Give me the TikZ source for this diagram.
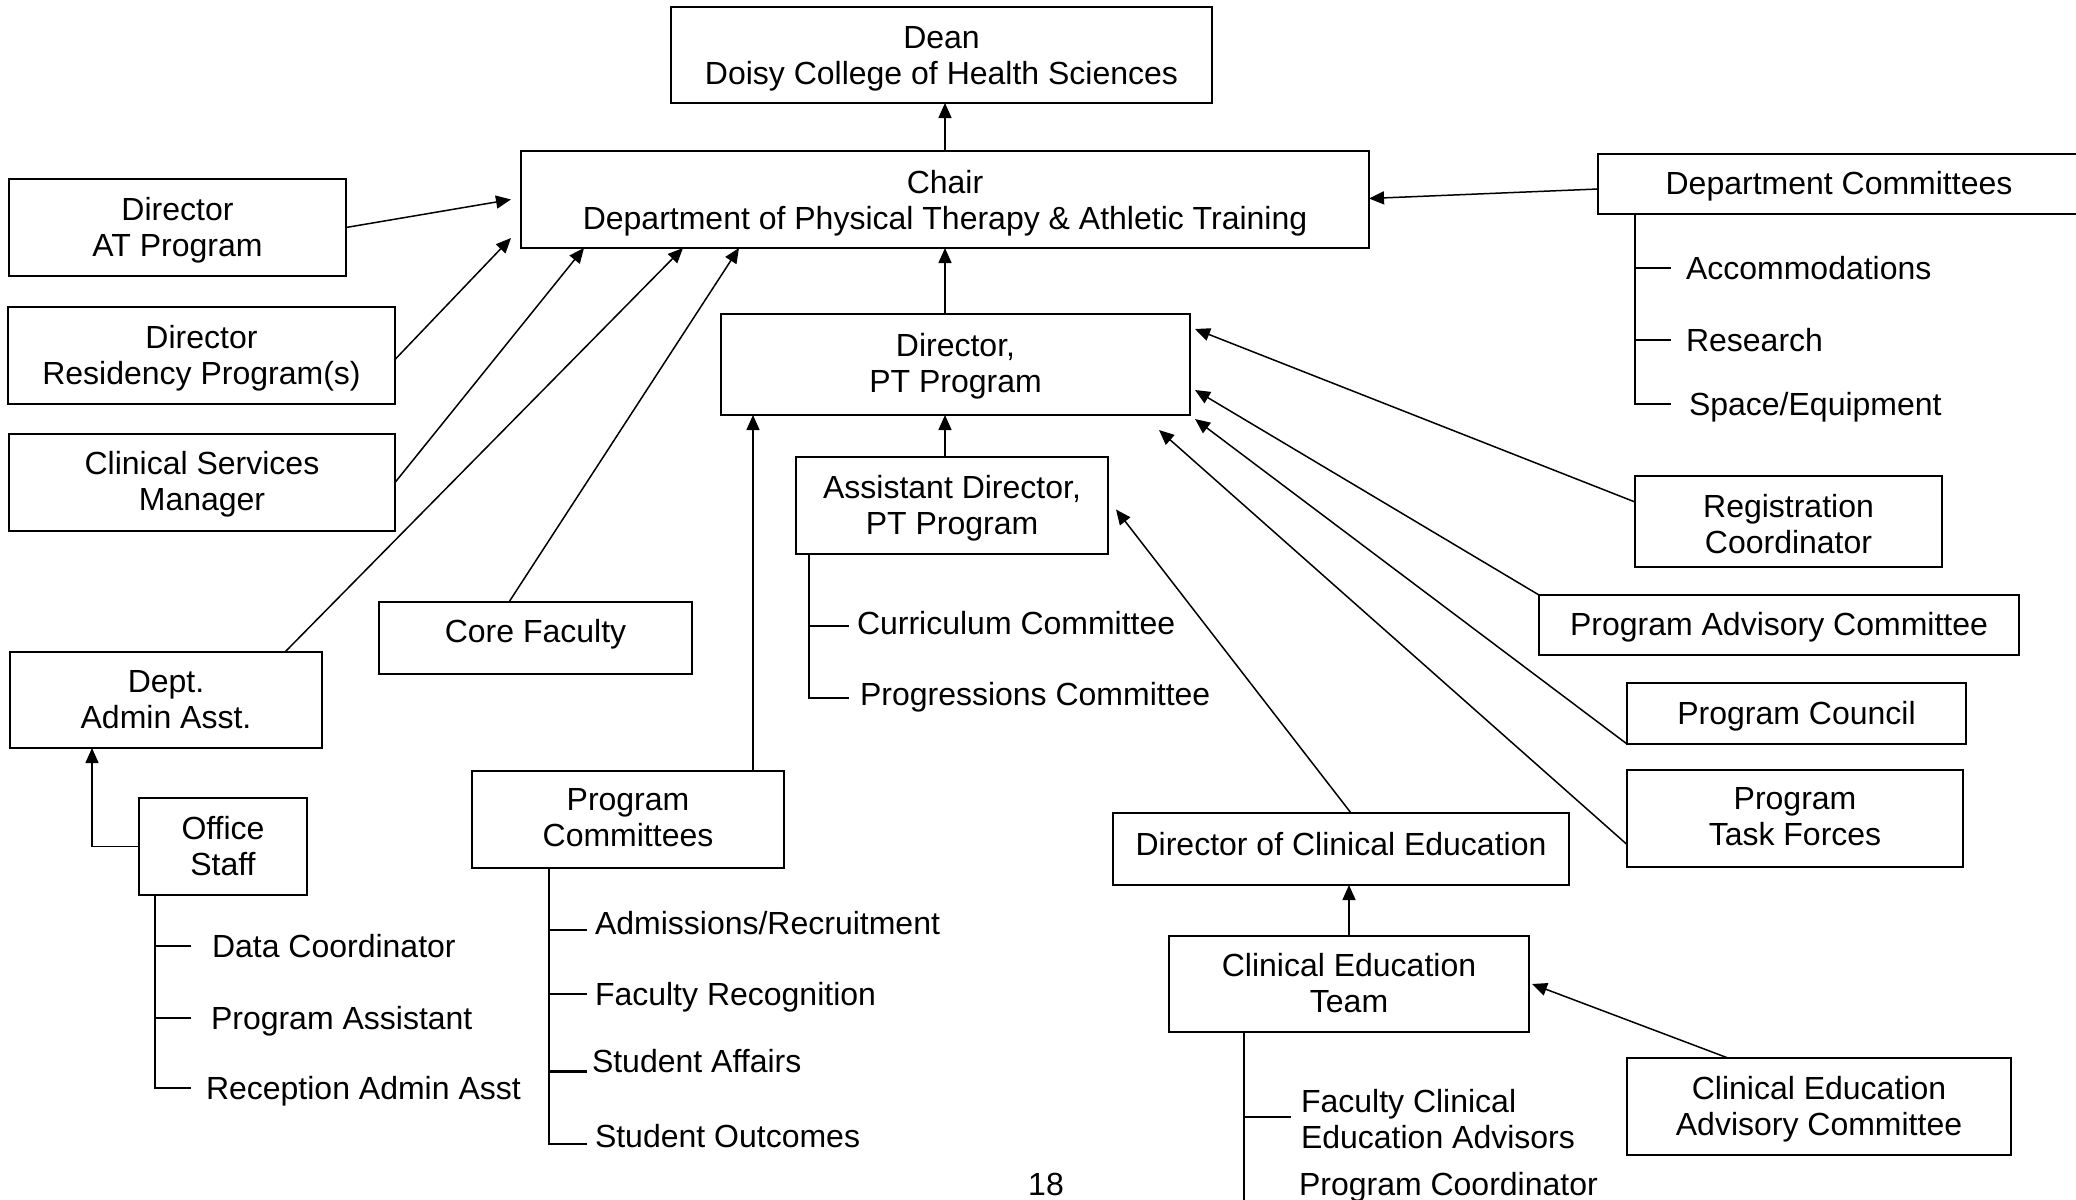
\documentclass[tikz,border=0pt]{standalone}
\usepackage{fontspec}
\setmainfont{Liberation Sans}
\usetikzlibrary{arrows.meta,calc}
\begin{document}
\begin{tikzpicture}[x=0.5pt,y=-0.5pt,
 box/.style={draw,line width=1pt,inner sep=0pt,outer sep=0pt},
 btext/.style={inner sep=0pt,outer sep=0pt,align=center,font=\fontsize{16}{18}\selectfont},
 lbl/.style={anchor=west,inner sep=0pt,outer sep=0pt,font=\fontsize{16}{18}\selectfont,text height=11.5pt,text depth=0pt},
 lbltwo/.style={anchor=west,inner sep=0pt,outer sep=0pt,align=left,font=\fontsize{16}{18}\selectfont},
 arr/.style={line width=0.75pt,-{Triangle[length=7.5pt,width=6.5pt]}},
 tree/.style={line width=1pt}]
\fill[white] (0,0) rectangle (2076,1199);
\useasboundingbox (0,0) rectangle (2076,1199);
\newcommand\bx[7]{\pgfmathsetmacro\bw{(#4-#2)*0.5}\pgfmathsetmacro\bh{(#5-#3)*0.5}%
 \node[box,minimum width=\bw pt,minimum height=\bh pt] (#1) at ({(#2+#4)/2},{(#3+#5)/2}) {};%
 \node[btext] (#1t) at ([yshift=#7pt]#1.center) {#6};}
% boxes
\bx{dean}{671}{7}{1212}{103}{Dean\\Doisy College of Health Sciences}{-2}
\bx{chair}{521}{151}{1369}{248}{Chair\\Department of Physical Therapy \& Athletic Training}{-2}
\bx{dirat}{9}{179}{346}{276}{Director\\AT Program}{-1.3}
\bx{dirres}{8}{307}{395}{404}{Director\\Residency Program(s)}{-1.6}
\bx{csm}{9}{434}{395}{531}{Clinical Services\\Manager}{-1}
\bx{deptc}{1598}{154}{2080}{214}{Department Committees}{-1.3}
\bx{dirpt}{721}{314}{1190}{415}{Director,\\PT Program}{-0.7}
\bx{asst}{796}{457}{1108}{554}{Assistant Director,\\PT Program}{-1.6}
\bx{reg}{1635}{476}{1942}{567}{Registration\\Coordinator}{-1.3}
\bx{pac}{1539}{595}{2019}{655}{Program Advisory Committee}{-1.3}
\bx{pcouncil}{1627}{683}{1966}{744}{Program Council}{-1.3}
\bx{ptf}{1627}{770}{1963}{867}{Program\\Task Forces}{0.7}
\bx{dce}{1113}{813}{1569}{885}{Director of Clinical Education}{2.6}
\bx{cet}{1169}{936}{1529}{1032}{Clinical Education\\Team}{0.7}
\bx{ceac}{1627}{1058}{2011}{1155}{Clinical Education\\Advisory Committee}{-1.3}
\bx{core}{379}{602}{692}{674}{Core Faculty}{2}
\bx{admin}{10}{652}{322}{748}{Dept.\\Admin Asst.}{0}
\bx{office}{139}{798}{307}{895}{Office\\Staff}{0}
\bx{pcomm}{472}{771}{784}{868}{Program\\Committees}{0.7}
% labels
\node[lbl] (acc) at (1686,268) {Accommodations};
\node[lbl] (res) at (1686,340) {Research};
\node[lbl] (space) at (1689,404) {Space/Equipment};
\node[lbl] (curr) at (857,623) {Curriculum Committee};
\node[lbl] (progr) at (860,694) {Progressions Committee};
\node[lbl] (datac) at (212,946) {Data Coordinator};
\node[lbl] (passt) at (211,1018) {Program Assistant};
\node[lbl] (raa) at (206,1088) {Reception Admin Asst};
\node[lbl] (adm) at (595,923) {Admissions/Recruitment};
\node[lbl] (facr) at (595,994) {Faculty Recognition};
\node[lbl] (saff) at (592,1061) {Student Affairs};
\node[lbl] (sout) at (595,1136) {Student Outcomes};
\node[lbltwo] (fcea) at (1301,1119) {Faculty Clinical\\Education Advisors};
\node[lbl] (pcoord) at (1299,1184) {Program Coordinator};
\node[inner sep=0pt,font=\fontsize{16}{18}\selectfont] (page) at (1046,1184) {18};
% trees
\coordinate (t1) at ([xshift=18.5pt]deptc.south west);
\draw[tree] (t1) -- (t1 |- space.west) -- ([xshift=-9pt]space.west);
\draw[tree] (t1 |- acc.west) -- ([xshift=-7.5pt]acc.west);
\draw[tree] (t1 |- res.west) -- ([xshift=-7.5pt]res.west);
\coordinate (t2) at ([xshift=6.5pt]asst.south west);
\draw[tree] (t2) -- ([yshift=-2pt]t2 |- progr.west) -- ([shift={(-5.5pt,-2pt)}]progr.west);
\draw[tree] ([yshift=-1.5pt]t2 |- curr.west) -- ([shift={(-4pt,-1.5pt)}]curr.west);
\coordinate (t3) at ([xshift=8pt]office.south west);
\draw[tree] (t3) -- (t3 |- raa.west) -- ([xshift=-7.5pt]raa.west);
\draw[tree] (t3 |- datac.west) -- ([xshift=-10.5pt]datac.west);
\draw[tree] (t3 |- passt.west) -- ([xshift=-10pt]passt.west);
\coordinate (t4) at ([xshift=38.5pt]pcomm.south west);
\draw[tree] (t4) -- ([yshift=-4pt]t4 |- sout.west) -- ([shift={(-4pt,-4pt)}]sout.west);
\draw[tree] ([yshift=-3.5pt]t4 |- adm.west) -- ([shift={(-4pt,-3.5pt)}]adm.west);
\draw[tree] (t4 |- facr.west) -- ([xshift=-4pt]facr.west);
\draw[line width=1.5pt] ([yshift=-5pt]t4 |- saff.west) -- ([shift={(-2.5pt,-5pt)}]saff.west);
\coordinate (t5) at ([xshift=37.5pt]cet.south west);
\draw[tree] (t5) -- ([yshift=-10pt]t5 |- pcoord.west);
\draw[line width=1.3pt] ([yshift=1pt]t5 |- fcea.west) -- ([shift={(-5pt,1pt)}]fcea.west);
% connectors
\draw[arr] (chair.north) -- (chair.north |- dean.south);
\draw[arr] (dirpt.north -| chair.north) -- (chair.south);
\draw[arr] (asst.north -| chair.south) -- (dirpt.south -| chair.south);
\draw[arr] ([yshift=-2.5pt]deptc.west) -- ([yshift=0.5pt]chair.east);
\draw[arr] (dirat.east) -- ([xshift=-5pt]chair.west);
\draw[arr] ([yshift=-2pt]dirres.east) -- ([shift={(-5pt,5pt)}]chair.south west);
\draw[arr] (csm.east) -- ([xshift=31.5pt]chair.south west);
\draw[arr] ([xshift=137.5pt]admin.north west) -- ([xshift=81pt]chair.south west);
\draw[arr] ([xshift=65pt]core.north west) -- ([xshift=109pt]chair.south west);
\draw[arr] (office.west) -| ([xshift=41pt]admin.south west);
\draw[arr] ([xshift=140.5pt]pcomm.north west) -- ([xshift=140.5pt]pcomm.north west |- dirpt.south);
\draw[arr] ([xshift=5pt]dce.north) -- ([shift={(4pt,-2pt)}]asst.east);
\draw[arr] (cet.north) -- (cet.north |- dce.south);
\draw[arr] ([xshift=50.5pt]ceac.north west) -- ([xshift=1.5pt]cet.east);
\draw[arr] ([yshift=-13pt]reg.north west) -- ([shift={(2.5pt,-7.5pt)}]dirpt.north east);
\draw[arr] (pac.north west) -- ([shift={(2.5pt,12.5pt)}]dirpt.south east);
\draw[arr] (pcouncil.south west) -- ([shift={(2.5pt,-2pt)}]dirpt.south east);
\draw[arr] ([yshift=-13pt]ptf.west) -- ([shift={(-15.5pt,-7.5pt)}]dirpt.south east);
\end{tikzpicture}
\end{document}
